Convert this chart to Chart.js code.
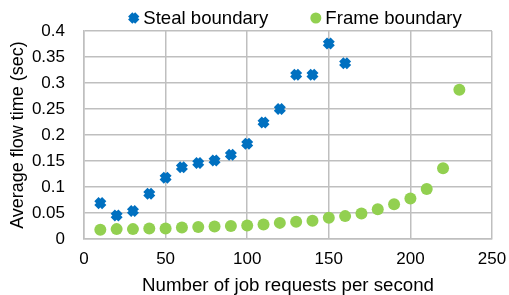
<!DOCTYPE html>
<html>
<head>
<meta charset="utf-8">
<script src="https://cdn.jsdelivr.net/npm/chart.js@4.4.0/dist/chart.umd.min.js"></script>
<style>
  html, body { margin: 0; padding: 0; background: #fff; }
  #wrap { width: 509px; height: 295px; }
</style>
</head>
<body>
<div id="wrap"><canvas id="flow"></canvas></div>
<script>
const stealX = [10, 20, 30, 40, 50, 60, 70, 80, 90, 100, 110, 120, 130, 140, 150, 160];
const stealY = [0.069, 0.045, 0.054, 0.087, 0.118, 0.138, 0.146, 0.151, 0.162, 0.183, 0.224, 0.25, 0.316, 0.316, 0.376, 0.338];
const frameX = [10, 20, 30, 40, 50, 60, 70, 80, 90, 100, 110, 120, 130, 140, 150, 160, 170, 180, 190, 200, 210, 220, 230];
const frameY = [0.018, 0.019, 0.019, 0.02, 0.02, 0.022, 0.023, 0.024, 0.025, 0.026, 0.028, 0.031, 0.033, 0.035, 0.041, 0.044, 0.049, 0.057, 0.067, 0.078, 0.096, 0.136, 0.287];

const font = "'Liberation Sans', Arial, sans-serif";
const blue = "#0070c0";
const green = "#92d050";

// legend drawn by hand so the spacing matches the original
const topLegend = {
  id: "topLegend",
  afterDraw(chart) {
    const c = chart.ctx;
    const area = chart.chartArea;
    const sets = chart.data.datasets;
    c.save();
    c.font = "18.6px " + font;
    c.textBaseline = "middle";
    const widths = sets.map((ds) => 15 + c.measureText(ds.label).width);
    const gap = 42;
    const total = widths.reduce((a, b) => a + b, 0) + gap * (sets.length - 1);
    let x = (area.left + area.right) / 2 - total / 2 + 7;
    const y = area.top - 13;
    sets.forEach((ds, i) => {
      const cx = x + 5.5;
      if (ds.pointStyle === "crossRot") {
        const d = 5 * Math.SQRT1_2;
        c.strokeStyle = ds.borderColor;
        c.lineWidth = 6;
        c.beginPath();
        c.moveTo(cx - d, y - d);
        c.lineTo(cx + d, y + d);
        c.moveTo(cx + d, y - d);
        c.lineTo(cx - d, y + d);
        c.stroke();
      } else {
        c.fillStyle = ds.backgroundColor;
        c.beginPath();
        c.arc(cx, y, 5.5, 0, Math.PI * 2);
        c.fill();
      }
      c.fillStyle = "#000";
      c.fillText(ds.label, x + 15, y + 1);
      x += widths[i] + gap;
    });
    c.restore();
  },
};

const ctx = document.getElementById("flow");
new Chart(ctx, {
  type: "scatter",
  data: {
    datasets: [
      {
        label: "Steal boundary",
        data: stealX.map((x, i) => ({ x: x, y: stealY[i] })),
        pointStyle: "crossRot",
        pointRadius: 5.5,
        pointHoverRadius: 5.5,
        borderWidth: 6,
        borderColor: blue,
        backgroundColor: blue,
      },
      {
        label: "Frame boundary",
        data: frameX.map((x, i) => ({ x: x, y: frameY[i] })),
        pointStyle: "circle",
        pointRadius: 6,
        pointHoverRadius: 6,
        borderWidth: 0,
        borderColor: green,
        backgroundColor: green,
      },
    ],
  },
  plugins: [topLegend],
  options: {
    responsive: true,
    maintainAspectRatio: false,
    animation: false,
    layout: {
      padding: { left: 7, right: 0, top: 31, bottom: -2 },
    },
    plugins: {
      legend: { display: false },
      tooltip: { enabled: false },
    },
    scales: {
      x: {
        type: "linear",
        min: 0,
        max: 250,
        afterFit: (scale) => {
          scale.height = 58;
          scale.paddingRight = 17;
        },
        ticks: {
          stepSize: 50,
          color: "#000",
          padding: 10,
          font: { family: font, size: 17 },
        },
        grid: { color: "#bfbfbf", lineWidth: 1.5, drawTicks: false },
        border: { color: "#bfbfbf", width: 1.5 },
        title: {
          display: true,
          text: "Number of job requests per second",
          color: "#000",
          padding: { top: 0, bottom: 0 },
          font: { family: font, size: 18.7 },
        },
      },
      y: {
        min: 0,
        max: 0.4,
        afterFit: (scale) => { scale.width = 77; },
        ticks: {
          stepSize: 0.05,
          color: "#000",
          padding: 19,
          font: { family: font, size: 17 },
          callback: function (v) {
            return String(Number(v.toFixed(2)));
          },
        },
        grid: { color: "#bfbfbf", lineWidth: 1.5, drawTicks: false },
        border: { color: "#bfbfbf", width: 1.5 },
        title: {
          display: true,
          text: "Average flow time (sec)",
          color: "#000",
          padding: { top: 0, bottom: 3 },
          font: { family: font, size: 18 },
        },
      },
    },
  },
});
</script>
</body>
</html>
